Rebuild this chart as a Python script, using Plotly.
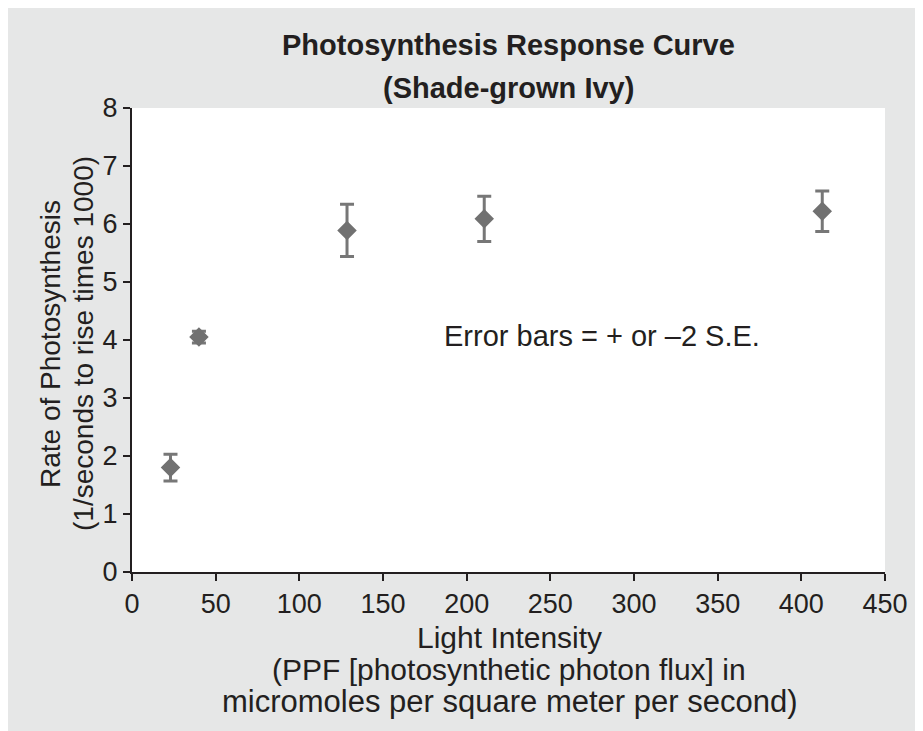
import plotly.graph_objects as go

# Data
light_intensity = [23, 40, 128.5, 210.5, 412.5]
rate = [1.80, 4.05, 5.89, 6.09, 6.22]
err_2se = [0.23, 0.10, 0.45, 0.39, 0.35]

x_ticks = [0, 50, 100, 150, 200, 250, 300, 350, 400, 450]
y_ticks = [0, 1, 2, 3, 4, 5, 6, 7, 8]

title_lines = ["Photosynthesis Response Curve", "(Shade-grown Ivy)"]
x_title_lines = ["Light Intensity",
                 "(PPF [photosynthetic photon flux] in",
                 "micromoles per square meter per second)"]
y_title_lines = ["Rate of Photosynthesis", "(1/seconds to rise times 1000)"]
note_text = "Error bars = + or \u20132 S.E."

W, H = 923, 731
L, R, T, B = 124, 46, 100, 167
pw, ph = W - L - R, H - T - B

def px_to_paper_x(px):
    return (px - L) / pw

def px_to_paper_y(py):
    return (H - B - py) / ph

GREY = "#777777"
TXT = "#231f20"
FONT = "Liberation Sans, Arial, Helvetica, sans-serif"

fig = go.Figure()
fig.add_trace(go.Scatter(
    x=light_intensity, y=rate, mode="markers",
    marker=dict(symbol="diamond", size=15, color="#717171"),
    error_y=dict(type="data", array=err_2se, visible=True, color=GREY,
                 thickness=3, width=7),
    showlegend=False,
))

annotations = []
for i, t in enumerate(title_lines):
    annotations.append(dict(text=f"<b>{t}</b>", x=0.5, xref="paper",
                            y=px_to_paper_y([37, 80][i]), yref="paper",
                            showarrow=False, xanchor="center", yanchor="middle",
                            font=dict(family=FONT, size=29, color=TXT)))
x_title_sizes = [30, 30, 31]
for i, t in enumerate(x_title_lines):
    annotations.append(dict(text=t, x=px_to_paper_x(501), xref="paper",
                            y=px_to_paper_y([629, 661, 693][i]), yref="paper",
                            showarrow=False, xanchor="center", yanchor="middle",
                            font=dict(family=FONT, size=x_title_sizes[i], color=TXT)))
for i, t in enumerate(y_title_lines):
    annotations.append(dict(text=t, x=px_to_paper_x([42, 75][i]), xref="paper",
                            y=px_to_paper_y(336), yref="paper", textangle=-90,
                            showarrow=False, xanchor="center", yanchor="middle",
                            font=dict(family=FONT, size=28, color=TXT)))
annotations.append(dict(text=note_text, x=281, y=4.07, xref="x", yref="y",
                        showarrow=False, xanchor="center", yanchor="middle",
                        font=dict(family=FONT, size=29, color=TXT)))

fig.update_layout(
    width=W, height=H,
    margin=dict(l=L, r=R, t=T, b=B, pad=0),
    paper_bgcolor="#e6e7e7", plot_bgcolor="white",
    font=dict(family=FONT, size=27, color=TXT),
    annotations=annotations,
    xaxis=dict(range=[0, 450], tickvals=x_ticks, showgrid=False, zeroline=False,
               showline=True, linecolor=TXT, linewidth=2,
               ticks="outside", ticklen=7, tickwidth=2, tickcolor=TXT,
               tickfont=dict(size=27)),
    yaxis=dict(range=[0, 8], tickvals=y_ticks, showgrid=False, zeroline=False,
               showline=True, linecolor=TXT, linewidth=2,
               ticks="outside", ticklen=7, tickwidth=2, tickcolor=TXT,
               tickfont=dict(size=27)),
)

fig.write_html("out.html")
